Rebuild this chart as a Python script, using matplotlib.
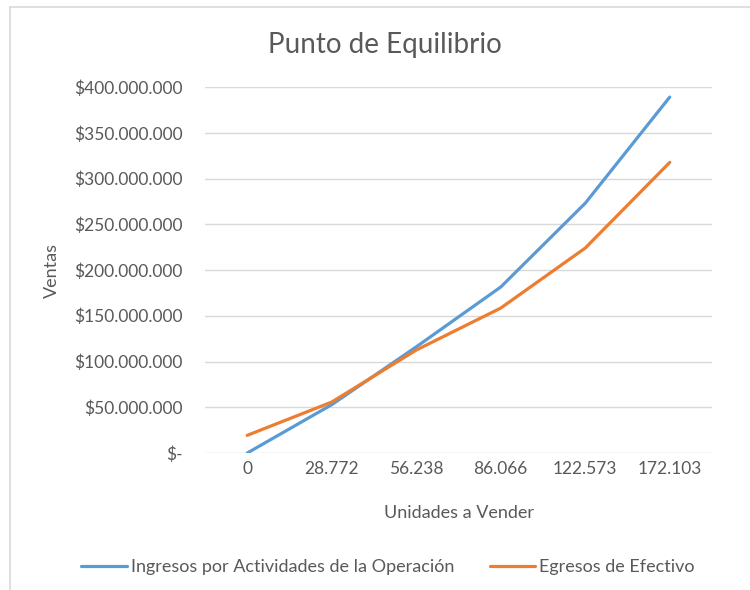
import matplotlib

matplotlib.use("Agg")
import matplotlib.pyplot as plt
from matplotlib.lines import Line2D
from matplotlib.ticker import FuncFormatter

plt.rcParams["font.family"] = ["Lato", "DejaVu Sans"]

# data
unidades = ["0", "28.772", "56.238", "86.066", "122.573", "172.103"]
ingresos = [0, 52.8e6, 116e6, 181.4e6, 273e6, 389e6]
egresos = [19.3e6, 55.7e6, 112.5e6, 158.4e6, 224e6, 317.6e6]
serie_names = ["Ingresos por Actividades de la Operación", "Egresos de Efectivo"]

BLUE = "#5b9bd5"
ORANGE = "#ed7d31"
GREY = "#595959"
GRID = "#d9d9d9"

W, H = 750, 590
fig = plt.figure(figsize=(W / 100, H / 100), dpi=100)
ax = fig.add_axes([205 / W, 1 - 453 / H, (712 - 205) / W, (453 - 87) / H])

x = list(range(len(unidades)))
ax.plot(x, ingresos, color=BLUE, lw=2.3, solid_capstyle="round", label=serie_names[0])
ax.plot(x, egresos, color=ORANGE, lw=2.3, solid_capstyle="round", label=serie_names[1])

ax.set_xlim(-0.5, len(unidades) - 0.5)
ax.set_ylim(0, 400e6)
ax.set_xticks(x)
ax.set_xticklabels(unidades)
ax.set_yticks([i * 50e6 for i in range(9)])


def money(v, _pos):
    if v == 0:
        return "$-"
    return "$" + f"{v:,.0f}".replace(",", ".")


ax.yaxis.set_major_formatter(FuncFormatter(money))
ax.tick_params(axis="both", length=0, labelsize=12.5, labelcolor=GREY)
ax.tick_params(axis="y", pad=16)
ax.tick_params(axis="x", pad=6)
ax.grid(axis="y", color=GRID, lw=1)
ax.set_axisbelow(True)
for s in ax.spines.values():
    s.set_visible(False)

ax.set_xlabel("Unidades a Vender", fontsize=13, color=GREY, labelpad=20)
ax.set_ylabel("Ventas", fontsize=13, color=GREY)
ax.yaxis.set_label_coords(-(205 - 60) / 507, 0.5)

fig.text(385 / W, 1 - 45 / H, "Punto de Equilibrio", fontsize=20, color=GREY,
         ha="center", va="center")

# chart border (left and top edges visible in the reference)
fig.add_artist(Line2D([10 / W, 10 / W], [0, 1 - 7 / H], color=GRID, lw=1.2))
fig.add_artist(Line2D([10 / W, 1], [1 - 7 / H, 1 - 7 / H], color=GRID, lw=1.2))

fig.legend(loc="center", bbox_to_anchor=(388 / W, 1 - 567 / H), ncol=2,
           frameon=False, fontsize=13, labelcolor=GREY, handlelength=2.5,
           handletextpad=0.22, columnspacing=2.0)

fig.savefig("out.png", dpi=100)
